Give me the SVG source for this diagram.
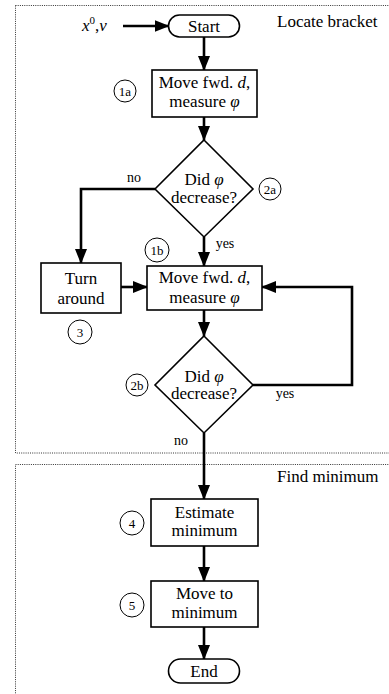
<svg xmlns="http://www.w3.org/2000/svg" width="389" height="694" viewBox="0 0 389 694">
<defs>
<marker id="ah" markerUnits="userSpaceOnUse" markerWidth="15" markerHeight="12" refX="14" refY="6" orient="auto">
<path d="M0,0 L15,6 L0,12 Z" fill="#000"/>
</marker>
</defs>
<rect width="389" height="694" fill="#fff"/>
<g id="frames" fill="none" stroke="#333" stroke-width="1" stroke-dasharray="1,1.2">
<rect x="15.5" y="5.5" width="400" height="447.5"/>
<rect x="15.5" y="464.5" width="400" height="260"/>
</g>
<g id="frame-labels" font-family="'Liberation Serif', 'Noto Sans CJK SC', serif" font-size="17">
<text font-family="'Liberation Serif', 'Noto Sans CJK SC', serif" x="277" y="27">Locate bracket</text>
<text font-family="'Liberation Serif', 'Noto Sans CJK SC', serif" x="277" y="482">Find minimum</text>
</g>
<g id="connectors" fill="none" stroke="#000" stroke-width="2.6" marker-end="url(#ah)">
<line x1="123" y1="26" x2="168.5" y2="26"/>
<line x1="204" y1="37" x2="204" y2="70"/>
<line x1="204" y1="117" x2="204" y2="140"/>
<polyline points="155,189 81,189 81,263"/>
<line x1="204" y1="237" x2="204" y2="266"/>
<line x1="121" y1="287" x2="147" y2="287"/>
<line x1="204" y1="310" x2="204" y2="336"/>
<polyline points="253,385 352,385 352,287 262,287"/>
<line x1="204" y1="433" x2="204" y2="499"/>
<line x1="204" y1="546" x2="204" y2="581"/>
<line x1="204" y1="627" x2="204" y2="659"/>
</g>
<g id="connector-labels" font-size="14" text-anchor="middle">
<text font-family="'Liberation Serif', 'Noto Sans CJK SC', serif" x="134" y="182">no</text>
<text font-family="'Liberation Serif', 'Noto Sans CJK SC', serif" x="225" y="248">yes</text>
<text font-family="'Liberation Serif', 'Noto Sans CJK SC', serif" x="285" y="398">yes</text>
<text font-family="'Liberation Serif', 'Noto Sans CJK SC', serif" x="181" y="445">no</text>
</g>
<g id="input">
<text font-family="'Liberation Serif', 'Noto Sans CJK SC', serif" font-size="17" x="82" y="31"><tspan font-style="italic">x</tspan><tspan font-size="11" dy="-7">0</tspan><tspan dy="7">,</tspan><tspan font-style="italic">v</tspan></text>
</g>
<g id="start">
<rect x="168.5" y="15" width="71" height="22" rx="11" fill="#fff" stroke="#000" stroke-width="1.6"/>
<text font-family="'Liberation Serif', 'Noto Sans CJK SC', serif" font-size="17" text-anchor="middle" x="204" y="32">Start</text>
</g>
<g id="step1a">
<rect x="152" y="70" width="105" height="47" fill="#fff" stroke="#000" stroke-width="1.6"/>
<text font-family="'Liberation Serif', 'Noto Sans CJK SC', serif" font-size="17" text-anchor="middle" x="204.5" y="88">Move fwd. <tspan font-style="italic">d</tspan>,</text>
<text font-family="'Liberation Serif', 'Noto Sans CJK SC', serif" font-size="17" text-anchor="middle" x="204.5" y="107">measure <tspan font-style="italic">φ</tspan></text>
<circle cx="125" cy="91" r="11" fill="#fff" stroke="#000" stroke-width="1"/>
<text font-family="'Liberation Serif', 'Noto Sans CJK SC', serif" font-size="13" text-anchor="middle" x="125" y="95.5">1a</text>
</g>
<g id="decision2a">
<polygon points="204,140 253,189 204,237 155,189" fill="#fff" stroke="#000" stroke-width="1.6"/>
<text font-family="'Liberation Serif', 'Noto Sans CJK SC', serif" font-size="17" text-anchor="middle" x="204" y="185">Did <tspan font-style="italic">φ</tspan></text>
<text font-family="'Liberation Serif', 'Noto Sans CJK SC', serif" font-size="17" text-anchor="middle" x="204" y="203">decrease?</text>
<circle cx="270" cy="189" r="11" fill="#fff" stroke="#000" stroke-width="1"/>
<text font-family="'Liberation Serif', 'Noto Sans CJK SC', serif" font-size="13" text-anchor="middle" x="270" y="193.5">2a</text>
</g>
<g id="turn">
<rect x="41" y="263" width="80" height="50" fill="#fff" stroke="#000" stroke-width="1.6"/>
<text font-family="'Liberation Serif', 'Noto Sans CJK SC', serif" font-size="17" text-anchor="middle" x="81" y="284">Turn</text>
<text font-family="'Liberation Serif', 'Noto Sans CJK SC', serif" font-size="17" text-anchor="middle" x="81" y="304">around</text>
<circle cx="80" cy="332" r="12" fill="#fff" stroke="#000" stroke-width="1"/>
<text font-family="'Liberation Serif', 'Noto Sans CJK SC', serif" font-size="13" text-anchor="middle" x="80" y="336.5">3</text>
</g>
<g id="step1b">
<rect x="147" y="266" width="115" height="44" fill="#fff" stroke="#000" stroke-width="1.6"/>
<text font-family="'Liberation Serif', 'Noto Sans CJK SC', serif" font-size="17" text-anchor="middle" x="204.5" y="283">Move fwd. <tspan font-style="italic">d</tspan>,</text>
<text font-family="'Liberation Serif', 'Noto Sans CJK SC', serif" font-size="17" text-anchor="middle" x="204.5" y="303">measure <tspan font-style="italic">φ</tspan></text>
<circle cx="157" cy="250" r="12" fill="#fff" stroke="#000" stroke-width="1"/>
<text font-family="'Liberation Serif', 'Noto Sans CJK SC', serif" font-size="13" text-anchor="middle" x="157" y="254.5">1b</text>
</g>
<g id="decision2b">
<polygon points="204,336 253,385 204,433 155,385" fill="#fff" stroke="#000" stroke-width="1.6"/>
<text font-family="'Liberation Serif', 'Noto Sans CJK SC', serif" font-size="17" text-anchor="middle" x="204" y="382">Did <tspan font-style="italic">φ</tspan></text>
<text font-family="'Liberation Serif', 'Noto Sans CJK SC', serif" font-size="17" text-anchor="middle" x="204" y="399">decrease?</text>
<circle cx="137" cy="385" r="11" fill="#fff" stroke="#000" stroke-width="1"/>
<text font-family="'Liberation Serif', 'Noto Sans CJK SC', serif" font-size="13" text-anchor="middle" x="137" y="389.5">2b</text>
</g>
<g id="step4">
<rect x="151" y="499" width="107" height="47" fill="#fff" stroke="#000" stroke-width="1.6"/>
<text font-family="'Liberation Serif', 'Noto Sans CJK SC', serif" font-size="17" text-anchor="middle" x="204.5" y="518">Estimate</text>
<text font-family="'Liberation Serif', 'Noto Sans CJK SC', serif" font-size="17" text-anchor="middle" x="204.5" y="536">minimum</text>
<circle cx="132" cy="523" r="12" fill="#fff" stroke="#000" stroke-width="1"/>
<text font-family="'Liberation Serif', 'Noto Sans CJK SC', serif" font-size="13" text-anchor="middle" x="132" y="527.5">4</text>
</g>
<g id="step5">
<rect x="151" y="581" width="107" height="46" fill="#fff" stroke="#000" stroke-width="1.6"/>
<text font-family="'Liberation Serif', 'Noto Sans CJK SC', serif" font-size="17" text-anchor="middle" x="204.5" y="599">Move to</text>
<text font-family="'Liberation Serif', 'Noto Sans CJK SC', serif" font-size="17" text-anchor="middle" x="204.5" y="618">minimum</text>
<circle cx="132" cy="605" r="12" fill="#fff" stroke="#000" stroke-width="1"/>
<text font-family="'Liberation Serif', 'Noto Sans CJK SC', serif" font-size="13" text-anchor="middle" x="132" y="609.5">5</text>
</g>
<g id="end">
<rect x="168.5" y="659" width="71" height="24" rx="12" fill="#fff" stroke="#000" stroke-width="1.6"/>
<text font-family="'Liberation Serif', 'Noto Sans CJK SC', serif" font-size="17" text-anchor="middle" x="204" y="677">End</text>
</g>
</svg>
